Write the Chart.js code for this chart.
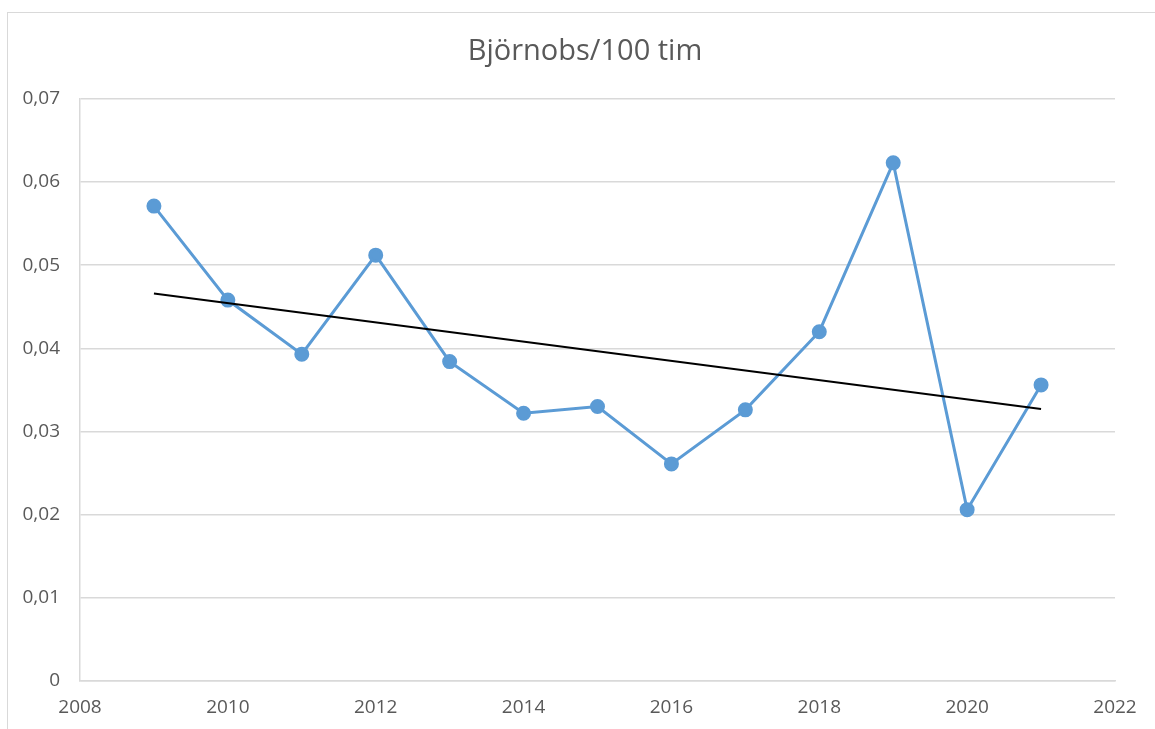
<!DOCTYPE html>
<html>
<head>
<meta charset="utf-8">
<script src="https://cdn.jsdelivr.net/npm/chart.js@4"></script>
<style>
  html, body { margin: 0; padding: 0; background: #fff; overflow: hidden; }
  #frame { position: absolute; left: 7px; top: 12px; width: 1160px; height: 730px; border: 1.5px solid #d9d9d9; }
  #wrap { position: absolute; left: 0; top: 0; width: 1170px; height: 729px; }
</style>
</head>
<body>
<div id="frame"></div>
<div id="wrap"><canvas id="myChart"></canvas></div>
<script>
// data
const years = [2009, 2010, 2011, 2012, 2013, 2014, 2015, 2016, 2017, 2018, 2019, 2020, 2021];
const obs = [0.0571, 0.0458, 0.0393, 0.0512, 0.0384, 0.0322, 0.0330, 0.0261, 0.0326, 0.0420, 0.0623, 0.0206, 0.0356];
// trend line end points
const trendYears = [2009, 2021];
const trendValues = [0.0466, 0.0327];

const grey = "#595959";
const gridGrey = "#d9d9d9";

const data = {
  datasets: [
    {
      label: "Björnobs/100 tim",
      data: years.map((y, i) => ({ x: y, y: obs[i] })),
      borderColor: "#5b9bd5",
      backgroundColor: "#5b9bd5",
      borderWidth: 3,
      pointRadius: 6,
      pointHoverRadius: 6,
      tension: 0,
      order: 2,
    },
    {
      label: "Trend",
      data: trendYears.map((y, i) => ({ x: y, y: trendValues[i] })),
      borderColor: "#000",
      borderWidth: 2,
      pointRadius: 0,
      order: 1,
    },
  ],
};

const config = {
  type: "line",
  data,
  options: {
    responsive: true,
    maintainAspectRatio: false,
    animation: false,
    layout: { padding: 0 },
    plugins: {
      legend: { display: false },
      tooltip: { enabled: false },
      title: {
        display: true,
        text: "Björnobs/100 tim",
        color: grey,
        font: { family: "Open Sans", size: 29, weight: "normal" },
        padding: { top: 34, bottom: 30 },
      },
    },
    scales: {
      x: {
        type: "linear",
        min: 2008,
        max: 2022,
        ticks: {
          stepSize: 2,
          color: grey,
          font: { family: "Open Sans", size: 19 },
          padding: 15,
          maxRotation: 0,
          callback: (v) => String(v),
        },
        grid: { display: false, drawTicks: false },
        border: { display: true, color: gridGrey, width: 1.5 },
        afterFit: (scale) => { scale.height = 48; },
      },
      y: {
        min: 0,
        max: 0.07,
        ticks: {
          stepSize: 0.01,
          color: grey,
          font: { family: "Open Sans", size: 19 },
          padding: 20,
          callback: (v) => (v === 0 ? "0" : v.toFixed(2).replace(".", ",")),
        },
        grid: { color: gridGrey, lineWidth: 1.5, drawTicks: false },
        border: { display: true, color: gridGrey, width: 1.5 },
        afterFit: (scale) => { scale.width = 80; },
      },
      // empty right margin so the title centres over the whole frame
      yRight: {
        position: "right",
        min: 0,
        max: 0.07,
        ticks: { display: false },
        grid: { display: false, drawTicks: false },
        border: { display: false },
        afterFit: (scale) => { scale.width = 55; },
      },
    },
  },
};

const myChart = new Chart(document.getElementById("myChart"), config);
</script>
</body>
</html>
